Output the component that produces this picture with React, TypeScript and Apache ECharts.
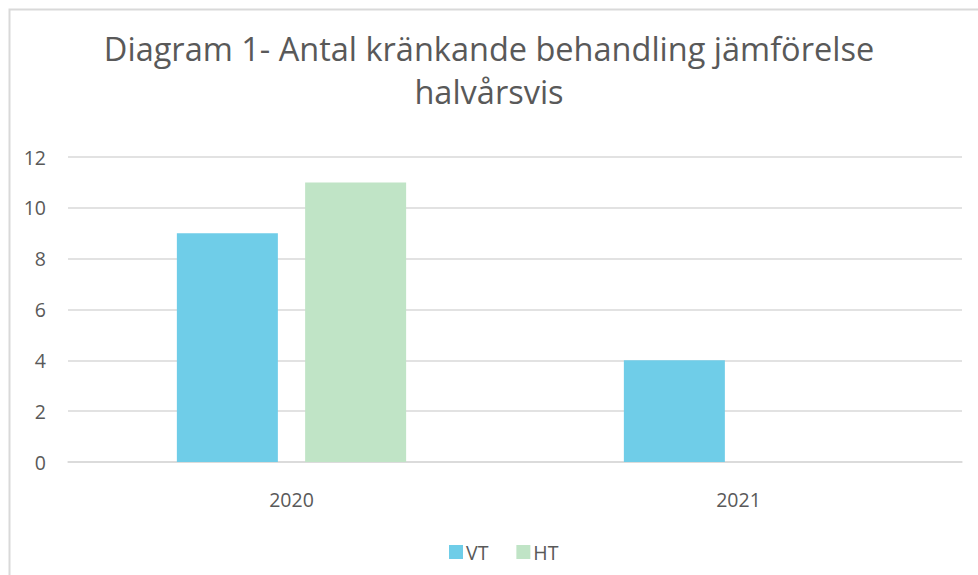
import React, { useEffect, useRef } from "react";
import * as echarts from "echarts";

const categories = ["2020", "2021"];
const vtValues = [9, 4];
const htValues = [11, 0];
const seriesNames = ["VT", "HT"];
const titleText = "Diagram 1- Antal kränkande behandling jämförelse\nhalvårsvis";

export default function App() {
  const ref = useRef<HTMLDivElement>(null);
  useEffect(() => {
    if (!ref.current) return;
    const chart = echarts.init(ref.current, undefined, { renderer: "svg" });
    const font = "'Open Sans', 'Noto Sans', sans-serif";
    chart.setOption({
      animation: false,
      backgroundColor: "#ffffff",
      textStyle: { fontFamily: font },
      graphic: [
        {
          type: "rect",
          left: 7,
          top: 7,
          shape: { x: 0, y: 0, width: 1000, height: 1000 },
          style: { fill: "none", stroke: "#d9d9d9", lineWidth: 2 },
          silent: true,
        },
      ],
      title: {
        text: titleText,
        left: "center",
        top: 22,
        textStyle: {
          fontFamily: font,
          fontSize: 32.5,
          fontWeight: "normal",
          color: "#595959",
          lineHeight: 43,
        },
      },
      legend: {
        data: seriesNames,
        left: 444,
        top: 537,
        itemWidth: 14,
        itemHeight: 14,
        itemGap: 28,
        icon: "rect",
        textStyle: { fontFamily: font, fontSize: 19.5, color: "#595959", padding: [0, 0, 0, -2] },
      },
      grid: { left: 68, right: 16, top: 157, bottom: 113, containLabel: false },
      xAxis: {
        type: "category",
        data: categories,
        axisLine: { show: true, lineStyle: { color: "#d9d9d9", width: 1.5 } },
        axisTick: { show: false },
        axisLabel: { color: "#595959", fontSize: 19.5, margin: 27, fontFamily: font },
      },
      yAxis: {
        type: "value",
        min: 0,
        max: 12,
        interval: 2,
        axisLine: { show: false },
        axisTick: { show: false },
        splitLine: { lineStyle: { color: "#d9d9d9", width: 1.5 } },
        axisLabel: { color: "#595959", fontSize: 19.5, margin: 22, fontFamily: font },
      },
      series: [
        {
          name: seriesNames[0],
          type: "bar",
          data: vtValues,
          barWidth: 101,
          barGap: "27%",
          itemStyle: { color: "#6fcde8" },
        },
        {
          name: seriesNames[1],
          type: "bar",
          data: htValues,
          barWidth: 101,
          barGap: "27%",
          itemStyle: { color: "#c0e4c6" },
        },
      ],
    });
    return () => chart.dispose();
  }, []);
  return (
    <div
      ref={ref}
      style={{ position: "fixed", left: 0, top: 0, width: 978, height: 575 }}
    />
  );
}
